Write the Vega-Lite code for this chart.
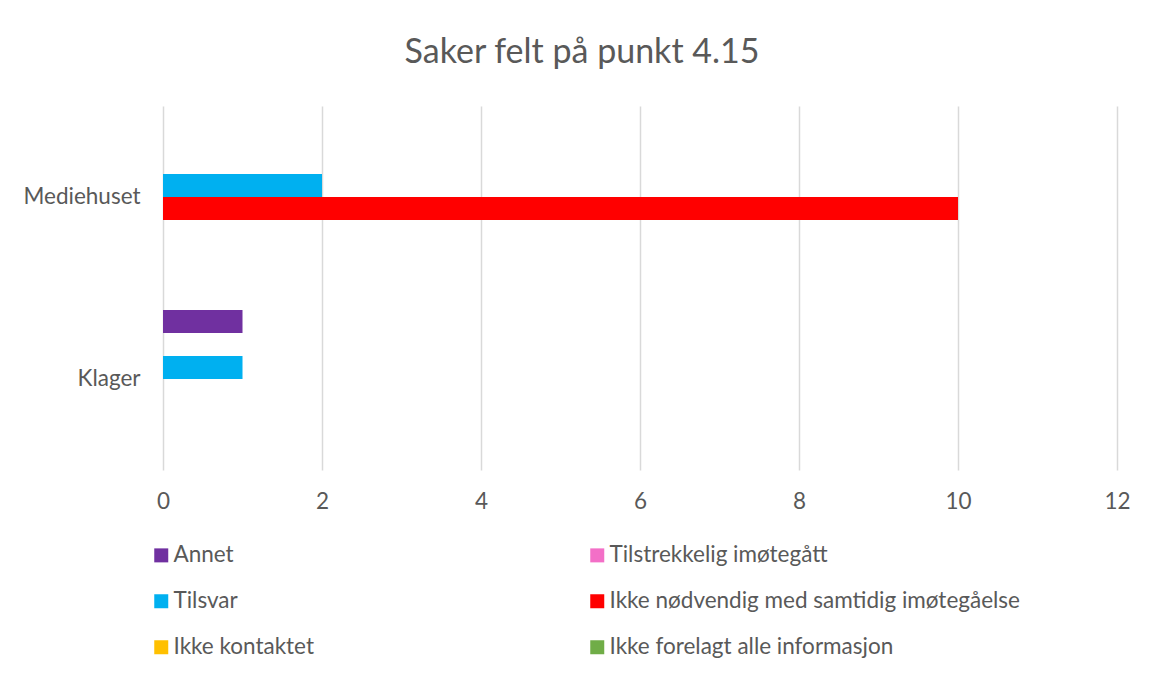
{
  "$schema": "https://vega.github.io/schema/vega-lite/v6.json",
  "autosize": {"type": "none"},
  "width": 954,
  "height": 364,
  "padding": {"left": 163, "top": 106, "right": 36, "bottom": 208},
  "background": "white",
  "title": {
    "text": "Saker felt på punkt 4.15",
    "anchor": "middle",
    "frame": "group",
    "dx": -58,
    "offset": 36,
    "fontSize": 34,
    "font": "Lato",
    "fontWeight": "normal",
    "color": "#595959"
  },
  "data": {
    "values": [
      {"kategori": "Mediehuset", "serie": "Annet", "antall": 0},
      {"kategori": "Mediehuset", "serie": "Tilstrekkelig imøtegått", "antall": 0},
      {"kategori": "Mediehuset", "serie": "Tilsvar", "antall": 2},
      {"kategori": "Mediehuset", "serie": "Ikke nødvendig med samtidig imøtegåelse", "antall": 10},
      {"kategori": "Mediehuset", "serie": "Ikke kontaktet", "antall": 0},
      {"kategori": "Mediehuset", "serie": "Ikke forelagt alle informasjon", "antall": 0},
      {"kategori": "Klager", "serie": "Annet", "antall": 1},
      {"kategori": "Klager", "serie": "Tilstrekkelig imøtegått", "antall": 0},
      {"kategori": "Klager", "serie": "Tilsvar", "antall": 1},
      {"kategori": "Klager", "serie": "Ikke nødvendig med samtidig imøtegåelse", "antall": 0},
      {"kategori": "Klager", "serie": "Ikke kontaktet", "antall": 0},
      {"kategori": "Klager", "serie": "Ikke forelagt alle informasjon", "antall": 0}
    ]
  },
  "mark": {"type": "bar", "cornerRadius": 0},
  "encoding": {
    "y": {
      "field": "kategori",
      "type": "nominal",
      "sort": ["Mediehuset", "Klager"],
      "scale": {"paddingInner": 0.2418, "paddingOuter": 0.1209},
      "axis": {
        "title": null,
        "domain": false,
        "ticks": false,
        "labelPadding": 23,
        "labelFontSize": 22.5,
        "labelFont": "Lato",
        "labelColor": "#595959"
      }
    },
    "yOffset": {
      "field": "serie",
      "type": "nominal",
      "sort": ["Annet", "Tilstrekkelig imøtegått", "Tilsvar", "Ikke nødvendig med samtidig imøtegåelse", "Ikke kontaktet", "Ikke forelagt alle informasjon"],
      "scale": {"paddingInner": 0, "paddingOuter": 0}
    },
    "x": {
      "field": "antall",
      "type": "quantitative",
      "scale": {"domain": [0, 12]},
      "axis": {
        "title": null,
        "values": [0, 2, 4, 6, 8, 10, 12],
        "domain": false,
        "ticks": false,
        "labelFlush": false,
        "labelPadding": 20,
        "labelFontSize": 22.5,
        "labelFont": "Lato",
        "labelColor": "#595959",
        "grid": true,
        "gridColor": "#d9d9d9",
        "gridWidth": 1.5
      }
    },
    "color": {
      "field": "serie",
      "type": "nominal",
      "scale": {
        "domain": ["Annet", "Tilstrekkelig imøtegått", "Tilsvar", "Ikke nødvendig med samtidig imøtegåelse", "Ikke kontaktet", "Ikke forelagt alle informasjon"],
        "range": ["#7030A0", "#F36FC7", "#00B0F0", "#FF0000", "#FFC000", "#70AD47"]
      },
      "legend": {
        "title": null,
        "orient": "none",
        "legendX": -13,
        "legendY": 438,
        "direction": "horizontal",
        "columns": 2,
        "columnPadding": 272,
        "rowPadding": 23,
        "symbolType": "square",
        "symbolSize": 196,
        "symbolStrokeWidth": 0,
        "symbolOpacity": 1,
        "labelFontSize": 22.5,
        "labelFont": "Lato",
        "labelColor": "#595959",
        "labelOffset": 1,
        "labelLimit": 500,
        "padding": 0
      }
    }
  },
  "config": {
    "view": {"stroke": null},
    "axis": {"gridOpacity": 1}
  }
}
